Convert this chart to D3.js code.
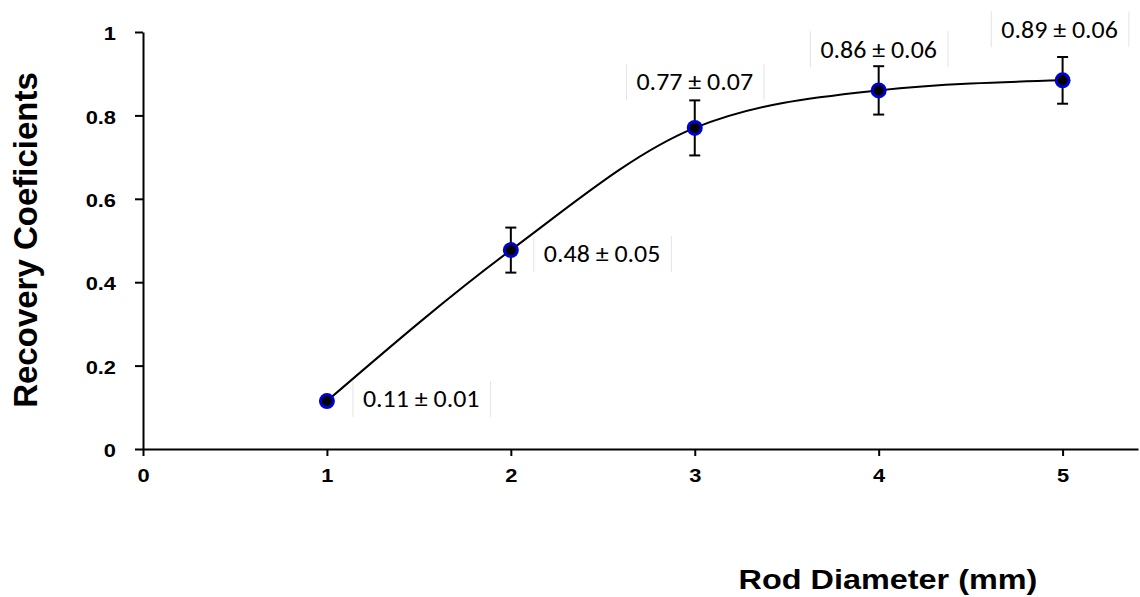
<!DOCTYPE html>
<html>
<head>
<meta charset="utf-8">
<script src="https://cdn.jsdelivr.net/npm/d3@7"></script>
<style>
  body { margin: 0; background: #fff; }
  .axis path, .axis line { stroke: #000; stroke-width: 2px; }
  .title { font-family: "Liberation Sans", Arial, sans-serif; font-weight: bold; fill: #000; }
  .val { font-family: Carlito, Calibri, Lato, sans-serif; font-size: 24px; fill: #000; }
</style>
</head>
<body>
<div id="chart"></div>
<script>
// rod diameters (mm) and recovery coefficients
var diameters = [1, 2, 3, 4, 5];
var recovery = [0.115, 0.477, 0.77, 0.86, 0.884];
var errors = [0.01, 0.054, 0.066, 0.058, 0.056];
var valueLabels = ["0.11 \u00b1 0.01", "0.48 \u00b1 0.05", "0.77 \u00b1 0.07", "0.86 \u00b1 0.06", "0.89 \u00b1 0.06"];
var xTicks = [0, 1, 2, 3, 4, 5];
var yTicks = [0, 0.2, 0.4, 0.6, 0.8, 1];

// where each value label sits relative to its point
var labelPlace = [
  { anchor: "start", dx: 36, dy: -2 },
  { anchor: "start", dx: 33, dy: 4 },
  { anchor: "middle", dx: 0, dy: -46 },
  { anchor: "middle", dx: 0, dy: -41 },
  { anchor: "middle", dx: -3, dy: -51 }
];

var width = 1140, height = 597;

var svg = d3.select("#chart").append("svg")
  .attr("width", width)
  .attr("height", height);

var x = d3.scaleLinear().domain([0, 5.41]).range([143, 1138]);
var y = d3.scaleLinear().domain([0, 1]).range([449, 32]);

// the original picture is stretched sideways
function stretch(k) {
  return function (sel) {
    sel.each(function () {
      var len = this.getComputedTextLength();
      d3.select(this).attr("textLength", len * k).attr("lengthAdjust", "spacingAndGlyphs");
    });
  };
}

function tickStyle(sel) {
  sel.style("font-family", "'Liberation Sans', Arial, sans-serif")
    .style("font-weight", "bold")
    .style("font-size", "19px")
    .style("fill", "#000");
}

var gx = svg.append("g")
  .attr("class", "axis")
  .attr("transform", "translate(0," + y(0) + ")")
  .call(d3.axisBottom(x).tickValues(xTicks).tickFormat(d3.format("d"))
    .tickSize(7).tickSizeOuter(0).tickPadding(13));
gx.selectAll("text").call(tickStyle).call(stretch(1.15));

var gy = svg.append("g")
  .attr("class", "axis")
  .attr("transform", "translate(" + x(0) + ",0)")
  .call(d3.axisLeft(y).tickValues(yTicks).tickFormat(function (d) { return d === 0 || d === 1 ? d : d3.format(".1f")(d); })
    .tickSize(8).tickSizeOuter(0).tickPadding(19));
gy.selectAll("text").attr("dy", "0.4em").call(tickStyle).call(stretch(1.15));

// axis titles
svg.append("text")
  .attr("class", "title")
  .attr("transform", "translate(37,240) rotate(-90)")
  .attr("text-anchor", "middle")
  .style("font-size", "33px")
  .text("Recovery Coeficients");

svg.append("text")
  .attr("class", "title")
  .attr("x", 888)
  .attr("y", 589)
  .attr("text-anchor", "middle")
  .style("font-size", "27px")
  .text("Rod Diameter (mm)")
  .call(stretch(1.2));

var pts = diameters.map(function (d, i) {
  return { d: d, r: recovery[i], e: errors[i], label: valueLabels[i], place: labelPlace[i] };
});

// fitted curve
var line = d3.line()
  .x(function (p) { return x(p.d); })
  .y(function (p) { return y(p.r); })
  .curve(d3.curveMonotoneX);

svg.append("path")
  .datum(pts)
  .attr("d", line)
  .attr("fill", "none")
  .attr("stroke", "#000")
  .attr("stroke-width", 2);

// error bars
var eb = svg.selectAll(".err").data(pts).enter().append("g").attr("class", "err")
  .attr("stroke", "#000").attr("stroke-width", 2);
eb.append("line")
  .attr("x1", function (p) { return x(p.d); })
  .attr("x2", function (p) { return x(p.d); })
  .attr("y1", function (p) { return y(p.r + p.e); })
  .attr("y2", function (p) { return y(p.r - p.e); });
eb.append("line")
  .attr("x1", function (p) { return x(p.d) - 5.5; })
  .attr("x2", function (p) { return x(p.d) + 5.5; })
  .attr("y1", function (p) { return y(p.r + p.e); })
  .attr("y2", function (p) { return y(p.r + p.e); });
eb.append("line")
  .attr("x1", function (p) { return x(p.d) - 5.5; })
  .attr("x2", function (p) { return x(p.d) + 5.5; })
  .attr("y1", function (p) { return y(p.r - p.e); })
  .attr("y2", function (p) { return y(p.r - p.e); });

// markers
svg.selectAll(".mk").data(pts).enter().append("circle")
  .attr("class", "mk")
  .attr("cx", function (p) { return x(p.d); })
  .attr("cy", function (p) { return y(p.r); })
  .attr("r", 8)
  .attr("fill", "#0000d4");
svg.selectAll(".mk2").data(pts).enter().append("circle")
  .attr("class", "mk2")
  .attr("cx", function (p) { return x(p.d); })
  .attr("cy", function (p) { return y(p.r); })
  .attr("r", 5)
  .attr("fill", "#000");

// value labels with faint text box edges
var lab = svg.selectAll(".lab").data(pts).enter().append("g").attr("class", "lab");
lab.append("text")
  .attr("class", "val")
  .attr("x", function (p) { return x(p.d) + p.place.dx; })
  .attr("y", function (p) { return y(p.r) + p.place.dy; })
  .attr("dy", "0.35em")
  .attr("text-anchor", function (p) { return p.place.anchor; })
  .text(function (p) { return p.label; })
  .call(stretch(1.08));
lab.each(function () {
  var g = d3.select(this);
  var bb = g.select("text").node().getBBox();
  var cy = bb.y + bb.height / 2;
  [bb.x - 10, bb.x + bb.width + 11].forEach(function (xx) {
    g.append("line")
      .attr("x1", xx).attr("x2", xx)
      .attr("y1", cy - 18).attr("y2", cy + 18)
      .attr("stroke", "#e4e4e4")
      .attr("stroke-width", 1);
  });
});
</script>
</body>
</html>
